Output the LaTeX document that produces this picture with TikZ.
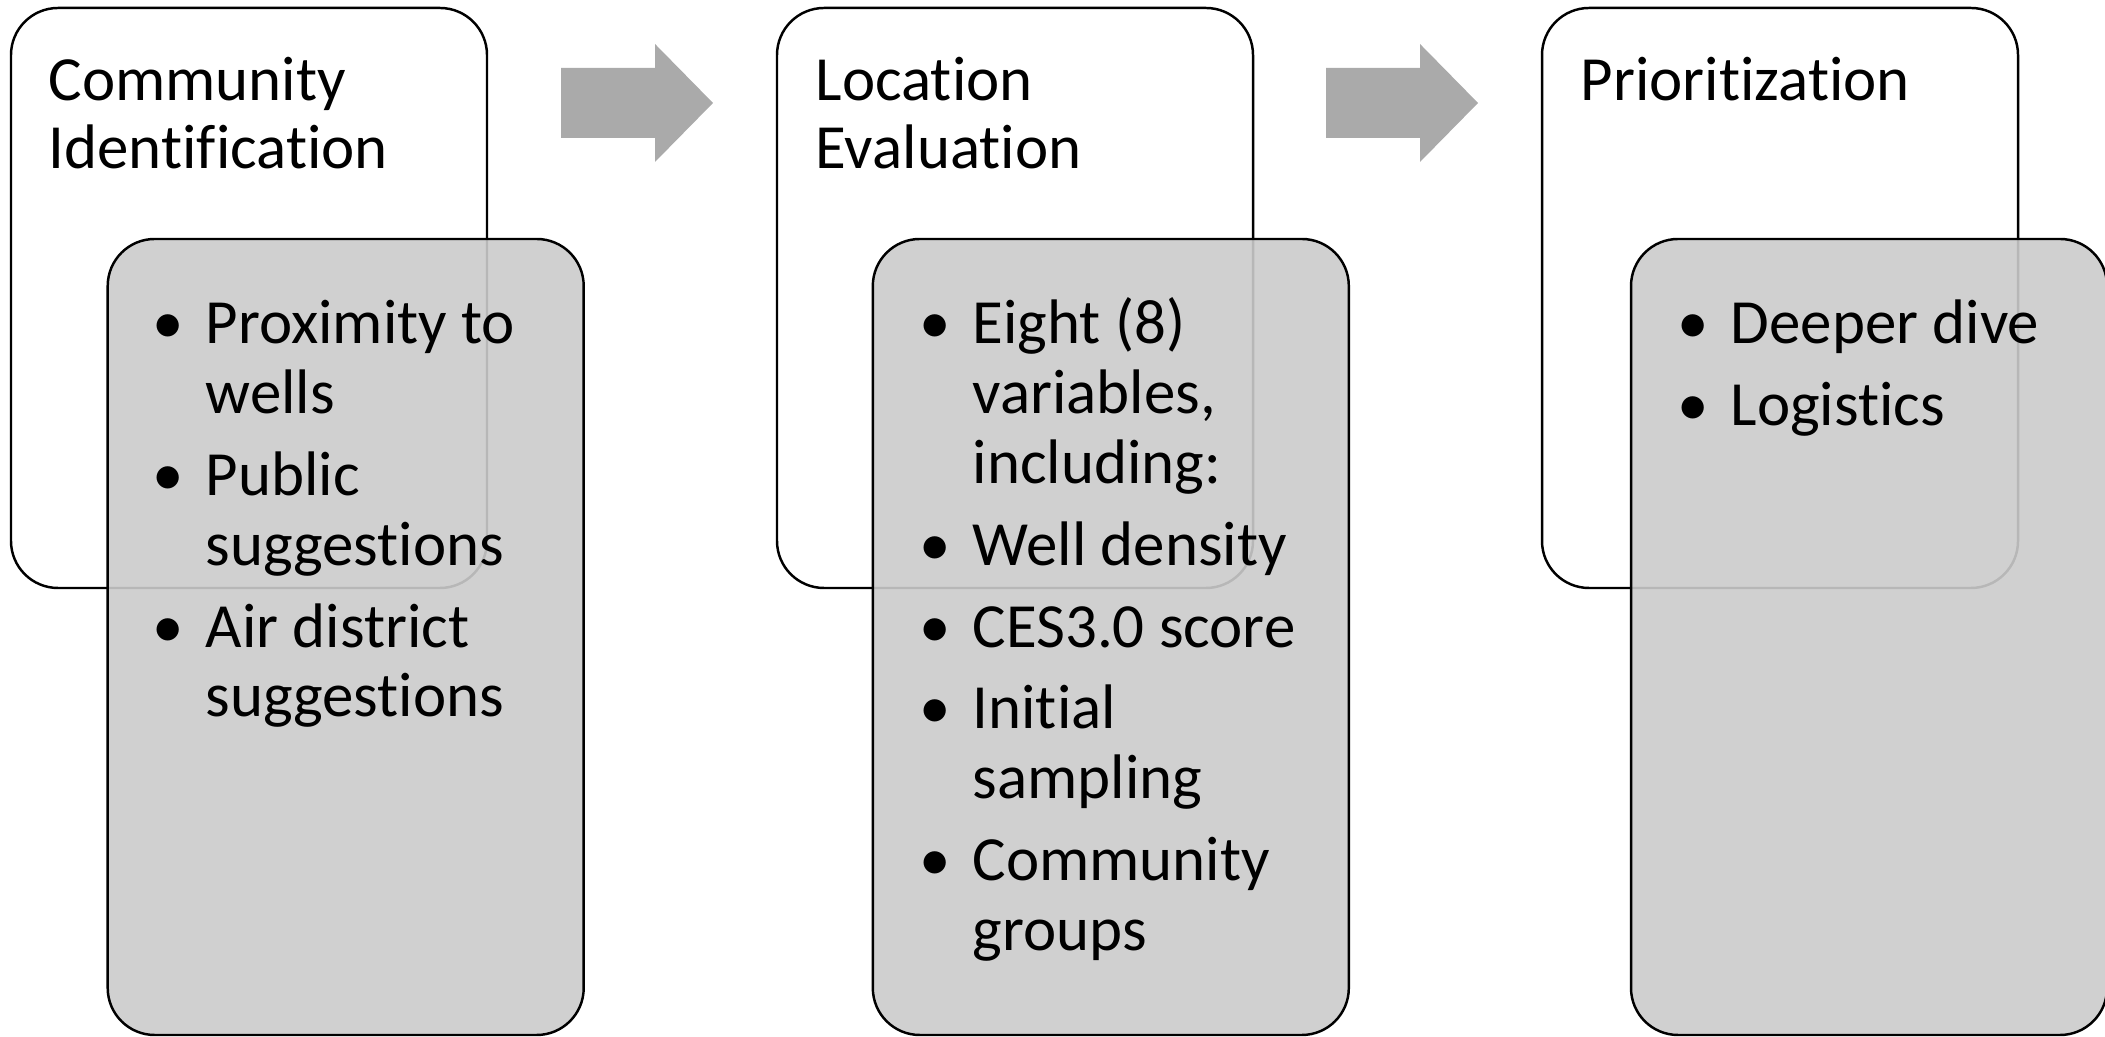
\documentclass[tikz,border=0pt]{standalone}
\usepackage{fontspec}
\setmainfont{Carlito}[Ligatures=NoCommon]
\usepackage{xcolor}
\definecolor{boxgray}{HTML}{CBCBCB}
\definecolor{arrowgray}{HTML}{AAAAAA}
\newcommand{\bul}{\llap{\textbullet\hspace{6.2pt}}}

\begin{document}
\begin{tikzpicture}[
		whitebox/.style={draw, line width=0.7pt, rounded corners=0.47cm, minimum width=4.76cm, minimum height=5.8cm, fill=white},
		graybox/.style={draw, line width=0.7pt, rounded corners=0.47cm, minimum width=4.76cm, minimum height=7.96cm, fill=boxgray, fill opacity=0.9},
		arrowfill/.style={fill=arrowgray},
		title/.style={anchor=base west, inner sep=0pt, font=\fontsize{17.9}{21}\selectfont},
		bullettext/.style={anchor=base west, inner sep=0pt, font=\fontsize{17.9}{21}\selectfont}
	]
		\useasboundingbox (0,0) rectangle (21.05,10.37);

		% first step
		\node[whitebox] (comm) at (2.49,7.39) {};
		\node[title] (t1a) at (0.48,9.36) {Community};
		\node[title] (t1b) at (0.48,8.68) {Identification};
		\node[graybox] (commlist) at (3.457,4.0) {};
		\node[bullettext] (c1) at (2.05,6.93) {\bul Proximity to};
		\node[bullettext] (c2) at (2.05,6.235) {wells};
		\node[bullettext] (c3) at (2.05,5.416) {\bul Public};
		\node[bullettext] (c4) at (2.05,4.718) {suggestions};
		\node[bullettext] (c5) at (2.05,3.899) {\bul Air district};
		\node[bullettext] (c6) at (2.05,3.20) {suggestions};

		\fill[arrowfill] (5.61,9.69) -- (6.55,9.69) -- (6.55,9.93) -- (7.13,9.34) -- (6.55,8.75) -- (6.55,8.99) -- (5.61,8.99) -- cycle;

		% second step
		\node[whitebox] (loc) at (10.15,7.39) {};
		\node[title] (t2a) at (8.15,9.36) {Location};
		\node[title] (t2b) at (8.15,8.68) {Evaluation};
		\node[graybox] (loclist) at (11.108,4.0) {};
		\node[bullettext] (l1) at (9.72,6.93) {\bul Eight (8)};
		\node[bullettext] (l2) at (9.72,6.235) {variables,};
		\node[bullettext] (l3) at (9.72,5.537) {including:};
		\node[bullettext] (l4) at (9.72,4.718) {\bul Well density};
		\node[bullettext] (l5) at (9.72,3.899) {\bul CES3.0 score};
		\node[bullettext] (l6) at (9.72,3.08) {\bul Initial};
		\node[bullettext] (l7) at (9.72,2.382) {sampling};
		\node[bullettext] (l8) at (9.72,1.563) {\bul Community};
		\node[bullettext] (l9) at (9.72,0.865) {groups};

		\fill[arrowfill] (13.26,9.69) -- (14.20,9.69) -- (14.20,9.93) -- (14.78,9.34) -- (14.20,8.75) -- (14.20,8.99) -- (13.26,8.99) -- cycle;

		% third step
		\node[whitebox] (prio) at (17.80,7.39) {};
		\node[title] (t3a) at (15.80,9.36) {Prioritization};
		\node[graybox] (priolist) at (18.69,4.0) {};
		\node[bullettext] (p1) at (17.30,6.93) {\bul Deeper dive};
		\node[bullettext] (p2) at (17.30,6.11) {\bul Logistics};
	\end{tikzpicture}
\end{document}
